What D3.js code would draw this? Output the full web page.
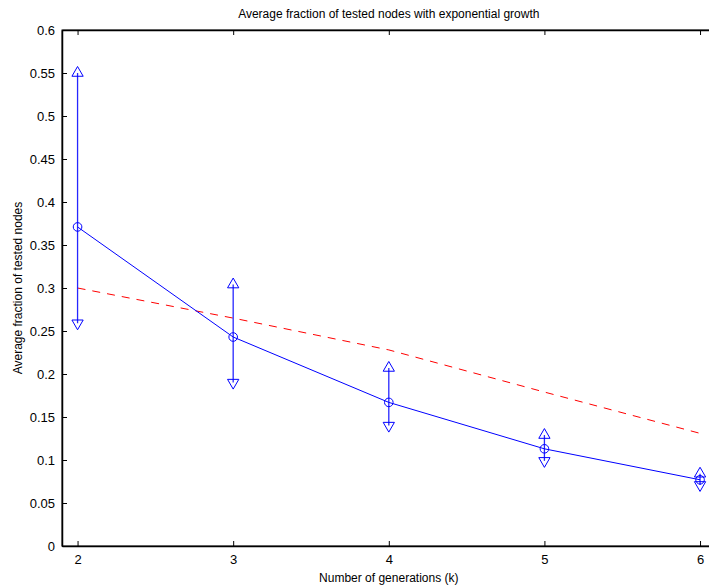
<!DOCTYPE html>
<html><head><meta charset="utf-8">
<script src="https://cdn.jsdelivr.net/npm/d3@7"></script>
<style>body{margin:0;background:#fff}svg{display:block}text{font-family:"Liberation Sans",Arial,sans-serif;fill:#000}</style>
</head><body><svg id="c" width="709" height="588"></svg>
<script>
const generations = [2, 3, 4, 5, 6];
const meanFraction = [0.371, 0.243, 0.167, 0.113, 0.077];
const upperFraction = [0.550, 0.304, 0.207, 0.129, 0.084];
const lowerFraction = [0.259, 0.190, 0.140, 0.099, 0.071];
const boundFraction = [0.300, 0.265, 0.228, 0.179, 0.131];
const xTicks = [2, 3, 4, 5, 6];
const yTicks = [0, 0.05, 0.1, 0.15, 0.2, 0.25, 0.3, 0.35, 0.4, 0.45, 0.5, 0.55, 0.6];
const titleText = "Average fraction of tested nodes with exponential growth";
const xLabel = "Number of generations (k)";
const yLabel = "Average fraction of tested nodes";

const svg = d3.select("#c");
const L = 62, R = 715.6, T = 30, B = 546;
const x = d3.scaleLinear().domain([1.9, 6.1]).range([L, R]);
const y = d3.scaleLinear().domain([0, 0.6]).range([B, T]);

// frame
svg.append("rect").attr("x", L).attr("y", T).attr("width", R - L).attr("height", B - T)
  .attr("fill", "none").attr("stroke", "#000").attr("stroke-width", 1);

// axes with inward ticks
const xAxis = svg.append("g").attr("transform", `translate(0,${B})`)
  .call(d3.axisBottom(x).tickValues(xTicks).tickSizeInner(-5).tickSizeOuter(0).tickPadding(9).tickFormat(d3.format("d")));
const xTop = svg.append("g").attr("transform", `translate(0,${T})`)
  .call(d3.axisTop(x).tickValues(xTicks).tickSizeInner(-5).tickSizeOuter(0).tickFormat(""));
const yAxis = svg.append("g").attr("transform", `translate(${L},0)`)
  .call(d3.axisLeft(y).tickValues(yTicks).tickSizeInner(-5).tickSizeOuter(0).tickPadding(7).tickFormat(d => d === 0 ? "0" : String(+d.toFixed(2))));
[xAxis, xTop, yAxis].forEach(g => {
  g.select(".domain").attr("stroke", "#000").attr("stroke-width", 1.5);
  g.selectAll("text").style("font-size", "13px").style("font-family", '"Liberation Sans",Arial,sans-serif');
});

// red dashed line
svg.append("path").datum(generations.map((g, i) => [g, boundFraction[i]]))
  .attr("d", d3.line().x(d => x(d[0])).y(d => y(d[1])))
  .attr("fill", "none").attr("stroke", "#ff0000").attr("stroke-width", 1).attr("stroke-dasharray", "8,7");

// error bars
svg.append("g").selectAll("line").data(generations).join("line")
  .attr("x1", d => x(d)).attr("x2", d => x(d))
  .attr("y1", (d, i) => y(lowerFraction[i])).attr("y2", (d, i) => y(upperFraction[i]))
  .attr("stroke", "#0000ff").attr("stroke-width", 1.3).attr("stroke-opacity", 0.85);

// mean line
svg.append("path").datum(generations.map((g, i) => [g, meanFraction[i]]))
  .attr("d", d3.line().x(d => x(d[0])).y(d => y(d[1])))
  .attr("fill", "none").attr("stroke", "#0000ff").attr("stroke-width", 1);

// markers
const tri = d3.symbol().type(d3.symbolTriangle).size(55);
svg.append("g").selectAll("path").data(generations).join("path")
  .attr("d", tri).attr("transform", (d, i) => `translate(${x(d)},${y(upperFraction[i])})`)
  .attr("fill", "none").attr("stroke", "#0000ff").attr("stroke-width", 1);
svg.append("g").selectAll("path").data(generations).join("path")
  .attr("d", tri).attr("transform", (d, i) => `translate(${x(d)},${y(lowerFraction[i])}) rotate(180)`)
  .attr("fill", "none").attr("stroke", "#0000ff").attr("stroke-width", 1);
svg.append("g").selectAll("circle").data(generations).join("circle")
  .attr("cx", d => x(d)).attr("cy", (d, i) => y(meanFraction[i])).attr("r", 4.3)
  .attr("fill", "none").attr("stroke", "#0000ff").attr("stroke-width", 1);

// labels
svg.append("text").attr("x", (L + R) / 2).attr("y", 18).attr("text-anchor", "middle")
  .style("font-size", "12px").text(titleText);
svg.append("text").attr("x", (L + R) / 2).attr("y", 582).attr("text-anchor", "middle")
  .style("font-size", "12px").text(xLabel);
svg.append("text").attr("transform", `translate(22,${(T + B) / 2}) rotate(-90)`).attr("text-anchor", "middle")
  .style("font-size", "12px").text(yLabel);
</script></body></html>
